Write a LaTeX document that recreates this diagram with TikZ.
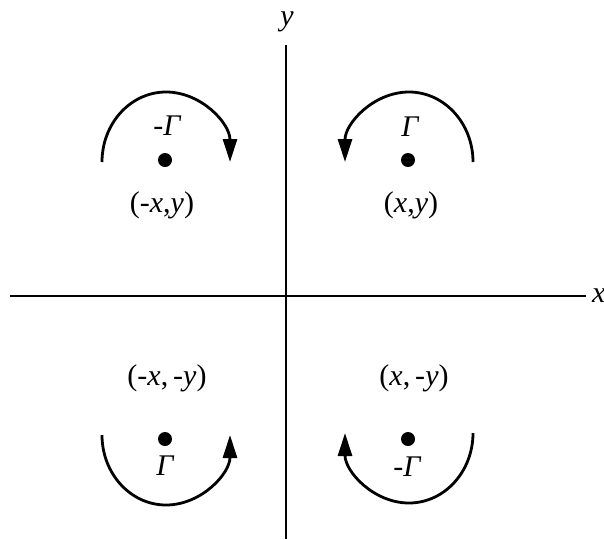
\documentclass[tikz,border=0pt]{standalone}
\usepackage{fontspec}
\setmainfont{Liberation Serif}
\usetikzlibrary{arrows.meta}

\begin{document}
\begin{tikzpicture}[x=1pt, y=-1pt, every node/.style={font=\fontsize{30}{36}\selectfont, inner sep=0pt}]
\tikzstyle{axis}=[line width=1.8pt]
\tikzstyle{swirl}=[line width=2.8pt, -{Stealth[length=23pt, width=14pt, inset=0pt]}]
\tikzstyle{vortex}=[circle, fill=black, minimum size=14pt]
\useasboundingbox (0,0) rectangle (604,539);
% axes
\coordinate (xl) at (10,296);
\coordinate (xr) at (586,296);
\coordinate (yb) at (286,539);
\coordinate (yt) at (286,45);
\draw[axis] (xl) -- (xr);
\draw[axis] (yb) -- (yt);
\node[anchor=west] (xlab) at (592,296) {\itshape x};
\node (ylab) at (287,22) {\itshape y};
% vortices
\node[vortex] (ptl) at (165,160) {};
\node[vortex] (ptr) at (408,160) {};
\node[vortex] (pbl) at (165,439) {};
\node[vortex] (pbr) at (408,439) {};
\node (gtl) at (167,126) {-{\itshape Γ}};
\node (gtr) at (410,127) {{\itshape Γ}};
\node (gbl) at (165,466) {{\itshape Γ}};
\node (gbr) at (407,467) {-{\itshape Γ}};
\node (ctl) at (162,205) {(-{\itshape x},{\itshape y})};
\node (ctr) at (411,205) {({\itshape x},{\itshape y})};
\node (cbl) at (167,378) {(-{\itshape x},\,-{\itshape y})};
\node (cbr) at (414,378) {({\itshape x},\,-{\itshape y})};
% circulation
\draw[swirl] (102,162) arc[start angle=180, end angle=360, x radius=64, y radius=70];
\draw[swirl] (473,162) arc[start angle=0, end angle=-180, x radius=64, y radius=70];
\draw[swirl] (102,435) arc[start angle=180, end angle=0, x radius=64, y radius=70];
\draw[swirl] (473,433) arc[start angle=0, end angle=180, x radius=64, y radius=70];
\end{tikzpicture}
\end{document}
